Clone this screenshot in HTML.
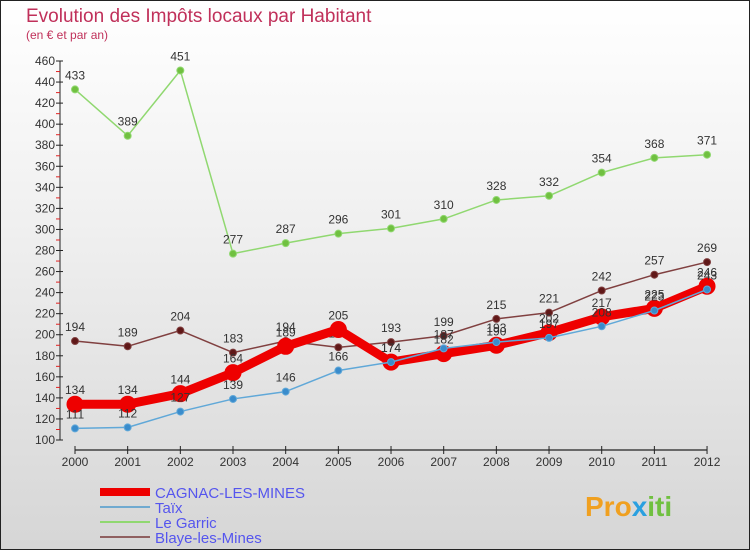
<!DOCTYPE html>
<html><head><meta charset="utf-8"><style>
body{margin:0;width:750px;height:550px;overflow:hidden;font-family:"Liberation Sans",sans-serif}
#wrap{position:absolute;left:0;top:0;width:748px;height:548px;border:1px solid #222;background:linear-gradient(#fff 0%,#f0f0f0 40%,#d6d6d6 100%)}
</style></head><body>
<div id="wrap">
<svg id="c" width="750" height="550" style="position:absolute;left:-1px;top:-1px">
<text x="26" y="22" font-size="19" fill="#c0305a">Evolution des Impôts locaux par Habitant</text>
<text x="26" y="39" font-size="12" fill="#c0305a">(en € et par an)</text>
<g id="axes"></g><g id="series"></g>
<g id="legend"></g>
<text x="585" y="516" font-size="28" font-weight="bold" fill="#f0a020">Pro<tspan fill="#2aa0e0">x</tspan><tspan fill="#70c040">iti</tspan></text>
</svg>
</div>
<script>
const years=[2000,2001,2002,2003,2004,2005,2006,2007,2008,2009,2010,2011,2012];
const yTicks=[100,120,140,160,180,200,220,240,260,280,300,320,340,360,380,400,420,440,460];
const cagnac=[134,134,144,164,189,205,174,182,190,202,217,225,246];
const taix=[111,112,127,139,146,166,174,187,193,197,208,223,243];
const garric=[433,389,451,277,287,296,301,310,328,332,354,368,371];
const blaye=[194,189,204,183,194,188,193,199,215,221,242,257,269];
const NS="http://www.w3.org/2000/svg";
const X=i=>75+i*52.67, Y=v=>440-(v-100)*(379/360);
function mk(t,a,p){const e=document.createElementNS(NS,t);for(const k in a)e.setAttribute(k,a[k]);p.appendChild(e);return e;}
const ax=document.getElementById('axes');
let l=mk('line',{x1:60,y1:61,x2:60,y2:440,stroke:'#222'},ax);

l=mk('line',{x1:75,y1:450,x2:707,y2:450,stroke:'#222','stroke-width':1.2},ax);

yTicks.forEach((v,i)=>{const y=Y(v);mk('line',{x1:56,y1:y,x2:63,y2:y,stroke:'#222'},ax);
 if(i<yTicks.length-1)mk('line',{x1:56,y1:y-10.5,x2:60,y2:y-10.5,stroke:'#e02020'},ax);
 const t=mk('text',{x:55,y:y+4,'font-size':12,fill:'#333','text-anchor':'end'},ax);t.textContent=v;
 });
years.forEach((yr,i)=>{const x=X(i);mk('line',{x1:x,y1:446,x2:x,y2:454,stroke:'#222'},ax);
 const t=mk('text',{x:x,y:466,'font-size':12,fill:'#333','text-anchor':'middle'},ax);t.textContent=yr;
 });
const sg=document.getElementById('series');
function draw(name,data,color,w,r,dot){const g=mk('g',{},sg);
 
 const p=mk('polyline',{points:data.map((v,i)=>X(i)+','+Y(v)).join(' '),fill:'none',stroke:color,'stroke-width':w,'stroke-linejoin':'round'},g);
 
 data.forEach((v,i)=>{const c=mk('circle',{cx:X(i),cy:Y(v),r:r,fill:dot,stroke:color,'stroke-width':1},g);
  
  const t=mk('text',{x:X(i),y:Y(v)-10,'font-size':12,fill:'#333','text-anchor':'middle'},g);t.textContent=v;
  });}
draw('garric',garric,'#90d870',1.5,3.5,'#70c040');
draw('blaye',blaye,'#804040',1.5,3.5,'#601818');
draw('cagnac',cagnac,'#ee0000',9,8,'#ee0000');
draw('taix',taix,'#60a8d8',1.5,3.5,'#3a8ccc');
const lg=document.getElementById('legend');
[['CAGNAC-LES-MINES','#ee0000',8],['Taïx','#70aad0',2],['Le Garric','#90d870',2],['Blaye-les-Mines','#906060',2]].forEach((e,i)=>{
 const y=492+i*15;const r=mk('line',{x1:100,y1:y,x2:150,y2:y,stroke:e[1],'stroke-width':e[2]},lg);
 
 const t=mk('text',{x:155,y:y+6,'font-size':15,fill:'#5555ee'},lg);t.textContent=e[0];
 });
</script>
</body></html>
